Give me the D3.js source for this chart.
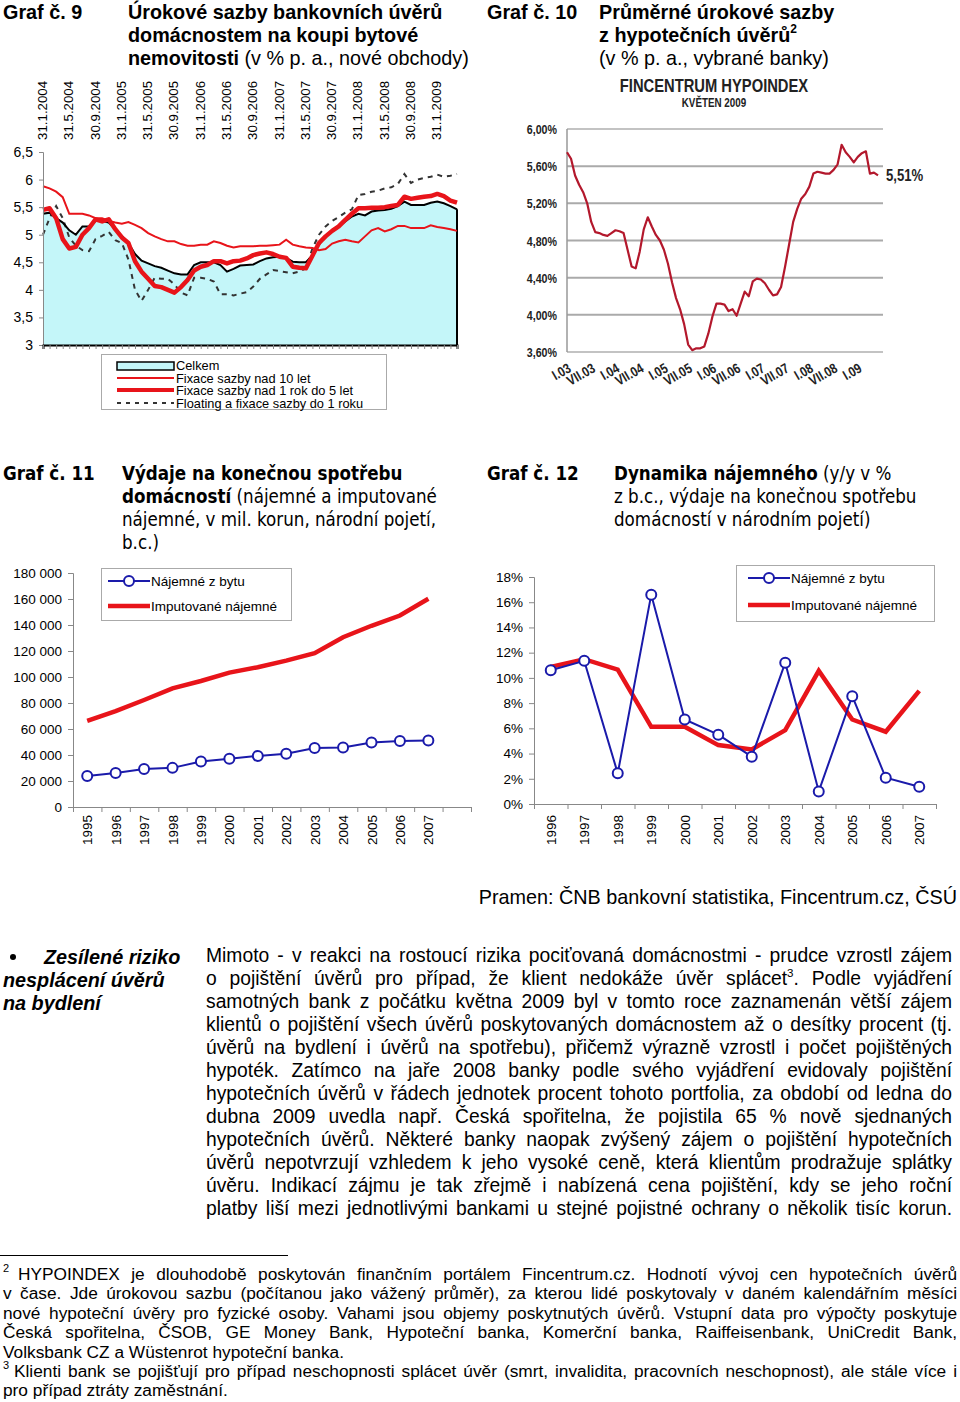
<!DOCTYPE html>
<html>
<head>
<meta charset="utf-8">
<style>
  html, body { margin: 0; padding: 0; background: #fff; }
  svg { display: block; font-family: Arial, "Liberation Sans", sans-serif; }
  .narrow { font-family: "Liberation Sans Narrow", "Arial Narrow", "DejaVu Sans Condensed", sans-serif; }
</style>
</head>
<body>
<svg id="page" width="960" height="1402"></svg>
<script src="https://cdn.jsdelivr.net/npm/d3@7/dist/d3.min.js"></script>
<script>
// Graf 9 - monthly, 31.1.2004 .. 30.4.2009
const g9Celkem = [5.38,5.40,5.30,5.22,5.08,5.00,5.15,5.15,5.25,5.25,
  5.22,5.10,4.98,4.85,4.65,4.53,4.48,4.43,4.40,4.35,
  4.30,4.28,4.28,4.45,4.50,4.50,4.50,4.45,4.33,4.38,
  4.44,4.45,4.46,4.52,4.57,4.59,4.60,4.58,4.51,4.50,
  4.50,4.62,4.82,4.97,5.06,5.15,5.24,5.33,5.38,5.35,
  5.42,5.44,5.45,5.47,5.52,5.60,5.54,5.54,5.54,5.58,
  5.60,5.57,5.52,5.46];
const g9Fix15 = [5.45,5.48,5.30,4.92,4.75,4.78,5.00,5.12,5.28,5.24,
  5.28,5.10,4.95,4.85,4.52,4.33,4.20,4.07,4.05,4.00,
  3.95,4.05,4.18,4.35,4.42,4.45,4.52,4.52,4.48,4.52,
  4.53,4.57,4.63,4.66,4.68,4.65,4.60,4.58,4.42,4.40,
  4.39,4.62,4.85,4.97,5.07,5.15,5.27,5.38,5.48,5.48,
  5.49,5.49,5.50,5.52,5.54,5.69,5.65,5.67,5.69,5.70,
  5.74,5.70,5.62,5.58];
const g9Fix10 = [5.88,5.84,5.78,5.68,5.38,5.38,5.38,5.35,5.30,5.30,
  5.25,5.22,5.20,5.23,5.18,5.12,5.03,4.97,4.92,4.88,
  4.88,4.83,4.80,4.80,4.82,4.82,4.88,4.85,4.80,4.77,
  4.79,4.79,4.79,4.80,4.80,4.81,4.82,4.91,4.82,4.79,
  4.77,4.76,4.72,4.74,4.84,4.88,4.91,4.88,4.86,4.97,
  5.08,5.12,5.06,5.10,5.16,5.16,5.12,5.12,5.12,5.17,
  5.14,5.12,5.10,5.07];
const g9Float = [5.00,5.30,5.52,5.30,4.95,4.80,4.72,4.70,4.92,4.98,
  5.05,4.90,4.85,4.55,4.00,3.80,4.00,4.22,4.20,4.20,
  4.10,3.95,3.90,4.22,4.22,4.20,4.15,3.92,3.92,3.90,
  3.93,3.96,4.06,4.20,4.28,4.36,4.34,4.32,4.30,4.33,
  4.39,4.75,5.00,5.15,5.25,5.32,5.40,5.46,5.72,5.74,
  5.78,5.80,5.84,5.86,5.92,6.10,5.94,6.00,6.03,6.05,
  6.09,6.05,6.07,6.10];
const g9DateLabels = ["31.1.2004","31.5.2004","30.9.2004","31.1.2005","31.5.2005","30.9.2005",
  "31.1.2006","31.5.2006","30.9.2006","31.1.2007","31.5.2007","30.9.2007",
  "31.1.2008","31.5.2008","30.9.2008","31.1.2009"];
const g9YTicks = [3, 3.5, 4, 4.5, 5, 5.5, 6, 6.5];
const g9Legend = ["Celkem", "Fixace sazby nad 10 let", "Fixace sazby nad 1 rok do 5 let", "Floating a fixace sazby do 1 roku"];

// Graf 10 - Fincentrum Hypoindex, monthly I.2003 .. VI.2009
const g10Hypo = [5.75,5.68,5.50,5.40,5.32,5.20,5.00,4.89,4.88,4.86,
  4.85,4.88,4.91,4.90,4.88,4.70,4.52,4.50,4.68,4.92,
  5.05,4.95,4.86,4.80,4.70,4.55,4.35,4.18,4.06,3.90,
  3.68,3.62,3.64,3.64,3.66,3.80,3.98,4.12,4.12,4.11,
  4.04,4.06,3.99,4.12,4.25,4.20,4.36,4.39,4.38,4.34,
  4.27,4.21,4.22,4.30,4.52,4.76,5.00,5.14,5.25,5.30,
  5.38,5.52,5.54,5.53,5.52,5.52,5.56,5.62,5.83,5.75,
  5.70,5.64,5.70,5.74,5.76,5.52,5.53,5.50];
const g10XLabels = ["I.03","VII.03","I.04","VII.04","I.05","VII.05","I.06","VII.06","I.07","VII.07","I.08","VII.08","I.09"];
const g10YTicks = [3.6, 4.0, 4.4, 4.8, 5.2, 5.6, 6.0];

// Graf 11
const years11 = ["1995","1996","1997","1998","1999","2000","2001","2002","2003","2004","2005","2006","2007"];
const najemne11 = [23900,26200,29300,30100,35000,37200,39300,40900,45300,45800,49600,50700,51200];
const imput11 = [66300,73800,82300,91300,96900,103400,107500,112600,118300,130600,139400,147300,160200];

// Graf 12
const years12 = ["1996","1997","1998","1999","2000","2001","2002","2003","2004","2005","2006","2007"];
const najemne12 = [10.6,11.35,2.43,16.6,6.7,5.5,3.75,11.2,1.0,8.55,2.08,1.37];
const imput12 = [10.87,11.48,10.66,6.12,6.12,4.67,4.33,5.86,10.56,6.7,5.73,8.97];

const RED = '#e8141a', BLUE = '#1a1aaa';
const svg = d3.select('#page');
const comma = v => String(v).replace('.', ',');

// ---------- headings ----------
function heading(x, y, parts, size, cls) {
  const t = svg.append('text').attr('x', x).attr('y', y).style('font-size', size + 'px');
  if (cls) t.attr('class', cls);
  parts.forEach(p => {
    t.append('tspan').text(p[0]).style('font-weight', p[1] ? 'bold' : 'normal');
  });
  return t;
}
const HS = 19.8;
heading(3, 19, [["Graf č. 9", 1]], HS);
heading(128, 19, [["Úrokové sazby bankovních úvěrů", 1]], HS);
heading(128, 42, [["domácnostem na koupi bytové", 1]], HS);
heading(128, 65, [["nemovitosti", 1], [" (v % p. a., nové obchody)", 0]], HS);
heading(487, 19, [["Graf č. 10", 1]], HS);
heading(599, 19, [["Průměrné úrokové sazby", 1]], HS);
const h10 = heading(599, 42, [["z hypotečních úvěrů", 1]], HS);
h10.append('tspan').attr('dy', -9).style('font-size', '12px').style('font-weight', 'bold').text('2');
heading(599, 65, [["(v % p. a., vybrané banky)", 0]], HS);

const NS = 18.6;
heading(3, 480, [["Graf č. 11", 1]], NS, 'narrow');
heading(122, 480, [["Výdaje na konečnou spotřebu", 1]], NS, 'narrow');
heading(122, 503, [["domácností", 1], [" (nájemné a imputované", 0]], NS, 'narrow');
heading(122, 526, [["nájemné, v mil. korun, národní pojetí,", 0]], NS, 'narrow');
heading(122, 549, [["b.c.)", 0]], NS, 'narrow');
heading(487, 480, [["Graf č. 12", 1]], NS, 'narrow');
heading(614, 480, [["Dynamika nájemného", 1], [" (y/y v %", 0]], NS, 'narrow');
heading(614, 503, [["z b.c., výdaje na konečnou spotřebu", 0]], NS, 'narrow');
heading(614, 526, [["domácností v národním pojetí)", 0]], NS, 'narrow');

// ---------- Graf 9 ----------
{
  const x = d3.scaleLinear().domain([0, g9Celkem.length - 1]).range([43, 457]);
  const y = d3.scaleLinear().domain([3, 6.5]).range([345, 152]);
  const g = svg.append('g');
  g.append('path').datum(g9Celkem)
    .attr('d', d3.area().x((d, i) => x(i)).y0(y(3)).y1(d => y(d)))
    .attr('fill', '#c4f6f9');
  const line = d3.line().x((d, i) => x(i)).y(d => y(d));
  g.append('path').datum(g9Float).attr('d', line).attr('fill', 'none')
    .attr('stroke', '#333').attr('stroke-width', 2).attr('stroke-dasharray', '5,5');
  g.append('path').datum(g9Celkem).attr('d', line).attr('fill', 'none')
    .attr('stroke', '#000').attr('stroke-width', 2);
  g.append('line').attr('x1', x(63)).attr('x2', x(63)).attr('y1', y(g9Celkem[63])).attr('y2', y(3))
    .attr('stroke', '#000').attr('stroke-width', 2);
  g.append('path').datum(g9Fix10).attr('d', line).attr('fill', 'none')
    .attr('stroke', RED).attr('stroke-width', 2);
  g.append('path').datum(g9Fix15).attr('d', line).attr('fill', 'none')
    .attr('stroke', RED).attr('stroke-width', 4.5).attr('stroke-linejoin', 'round');

  const ya = g.append('g').attr('transform', 'translate(43,0)')
    .call(d3.axisLeft(y).tickValues(g9YTicks).tickSize(4).tickFormat(comma));
  ya.select('.domain').attr('stroke', '#888');
  ya.selectAll('.tick line').attr('stroke', '#888');
  ya.selectAll('text').attr('x', -10).style('font-size', '14px').style('font-family', 'Arial, Liberation Sans');
  const xa = g.append('g').attr('transform', 'translate(0,345)')
    .call(d3.axisBottom(x).tickValues(d3.range(g9Celkem.length)).tickSize(4).tickFormat(''));
  xa.select('.domain').attr('stroke', '#000').attr('stroke-width', 2);
  xa.selectAll('.tick line').attr('stroke', '#888');
  g.selectAll('.dlab').data(g9DateLabels).join('text')
    .attr('transform', (d, i) => `translate(${x(i * 4) + 4},140) rotate(-90)`)
    .style('font-size', '13.3px').text(d => d);

  const lg = g.append('g');
  lg.append('rect').attr('x', 101.5).attr('y', 354.5).attr('width', 285).attr('height', 55)
    .attr('fill', '#fff').attr('stroke', '#aaa');
  lg.append('rect').attr('x', 117).attr('y', 362).attr('width', 57).attr('height', 8)
    .attr('fill', '#c4f6f9').attr('stroke', '#000').attr('stroke-width', 1.5);
  lg.append('line').attr('x1', 117).attr('x2', 174).attr('y1', 378).attr('y2', 378).attr('stroke', RED).attr('stroke-width', 2);
  lg.append('line').attr('x1', 117).attr('x2', 174).attr('y1', 390).attr('y2', 390).attr('stroke', RED).attr('stroke-width', 4);
  lg.append('line').attr('x1', 117).attr('x2', 174).attr('y1', 403).attr('y2', 403).attr('stroke', '#333').attr('stroke-width', 2).attr('stroke-dasharray', '4,5');
  lg.selectAll('text').data(g9Legend).join('text')
    .attr('x', 176).attr('y', (d, i) => 370 + i * 12.5)
    .style('font-size', '12.8px').text(d => d);
}

// ---------- Graf 10 ----------
{
  const x = d3.scaleLinear().domain([0, g10Hypo.length - 1]).range([567, 878]);
  const y = d3.scaleLinear().domain([3.6, 6.0]).range([352, 129]);
  const g = svg.append('g');
  // Arial-Narrow-like text: bold sans squeezed horizontally
  const nt = (tr, size, anchor, txt) => g.append('text')
    .attr('transform', tr + ' scale(0.82,1)').attr('text-anchor', anchor)
    .style('font-size', size + 'px').style('font-weight', 'bold').style('fill', '#222').text(txt);

  g.selectAll('.grid').data(g10YTicks).join('line')
    .attr('x1', 567).attr('x2', 883).attr('y1', d => y(d)).attr('y2', d => y(d))
    .attr('stroke', d => d === 6.0 || d === 3.6 ? '#888' : '#aaa')
    .attr('stroke-width', d => d === 6.0 || d === 3.6 ? 1.2 : 2);
  g.append('line').attr('x1', 567).attr('x2', 567).attr('y1', y(6.0)).attr('y2', y(3.6)).attr('stroke', '#999').attr('stroke-width', 1.5);
  g10YTicks.forEach(d => nt(`translate(557,${y(d) + 5})`, 13, 'end', d.toFixed(2).replace('.', ',') + '%'));
  g.append('path').datum(g10Hypo)
    .attr('d', d3.line().x((d, i) => x(i)).y(d => y(d)))
    .attr('fill', 'none').attr('stroke', '#b3182c').attr('stroke-width', 2.2).attr('stroke-linejoin', 'round');
  g10XLabels.forEach((d, i) => nt(`translate(${x(i * 6) + 5},371) rotate(-30)`, 14, 'end', d));
  nt('translate(886,181)', 16, 'start', comma(g10Hypo[g10Hypo.length - 1] + 0.01) + '%');
  nt('translate(714,92)', 18, 'middle', 'FINCENTRUM HYPOINDEX');
  nt('translate(714,107)', 12, 'middle', 'KVĚTEN 2009');
}

// ---------- shared helpers for Graf 11/12 ----------
function styleAxis(sel) {
  sel.select('.domain').attr('stroke', '#888');
  sel.selectAll('.tick line').attr('stroke', '#888');
  sel.selectAll('text').style('font-size', '13.5px').style('font-family', 'Arial, Liberation Sans').attr('fill', '#000');
}
function yearLabels(g, data, x, top) {
  g.selectAll('.yr').data(data).join('text')
    .attr('transform', (d, i) => `translate(${x(i + 0.5) + 5},${top}) rotate(-90)`)
    .attr('text-anchor', 'end').style('font-size', '13.5px').text(d => d);
}
function legend(g, x0, y0, w, h, pad, gap) {
  g.append('rect').attr('x', x0 + 0.5).attr('y', y0 + 0.5).attr('width', w).attr('height', h)
    .attr('fill', '#fff').attr('stroke', '#aaa');
  const lx = x0 + pad, ly1 = y0 + 13, ly2 = y0 + 13 + gap;
  g.append('line').attr('x1', lx).attr('x2', lx + 42).attr('y1', ly1).attr('y2', ly1).attr('stroke', BLUE).attr('stroke-width', 2);
  g.append('circle').attr('cx', lx + 21).attr('cy', ly1).attr('r', 5).attr('fill', '#fff').attr('stroke', BLUE).attr('stroke-width', 2);
  g.append('line').attr('x1', lx).attr('x2', lx + 42).attr('y1', ly2).attr('y2', ly2).attr('stroke', RED).attr('stroke-width', 4.5);
  g.append('text').attr('x', lx + 43).attr('y', ly1 + 5).style('font-size', '13.5px').text('Nájemné z bytu');
  g.append('text').attr('x', lx + 43).attr('y', ly2 + 5).style('font-size', '13.5px').text('Imputované nájemné');
}

// ---------- Graf 11 ----------
{
  const x = d3.scaleLinear().domain([0, years11.length + 1]).range([73, 471]);
  const y = d3.scaleLinear().domain([0, 180000]).range([807, 573]);
  const fmt = d3.formatLocale({ decimal: ',', thousands: ' ', grouping: [3] }).format(',');
  const g = svg.append('g');
  styleAxis(g.append('g').attr('transform', 'translate(73,0)')
    .call(d3.axisLeft(y).ticks(9).tickSize(5).tickPadding(6).tickFormat(fmt)));
  styleAxis(g.append('g').attr('transform', 'translate(0,807)')
    .call(d3.axisBottom(x).tickValues(d3.range(years11.length + 2)).tickSize(5).tickFormat('')));
  yearLabels(g, years11, x, 815);
  g.append('path').datum(imput11)
    .attr('d', d3.line().x((d, i) => x(i + 0.5)).y(d => y(d)))
    .attr('fill', 'none').attr('stroke', RED).attr('stroke-width', 4.5);
  g.append('path').datum(najemne11)
    .attr('d', d3.line().x((d, i) => x(i + 0.5)).y(d => y(d)))
    .attr('fill', 'none').attr('stroke', BLUE).attr('stroke-width', 2);
  g.selectAll('.pt').data(najemne11).join('circle')
    .attr('cx', (d, i) => x(i + 0.5)).attr('cy', d => y(d)).attr('r', 5)
    .attr('fill', '#fff').attr('stroke', BLUE).attr('stroke-width', 2);
  legend(g, 101, 568, 190, 52, 7, 25);
}

// ---------- Graf 12 ----------
{
  const x = d3.scaleLinear().domain([0, years12.length]).range([534, 936]);
  const y = d3.scaleLinear().domain([0, 18]).range([804, 577]);
  const g = svg.append('g');
  styleAxis(g.append('g').attr('transform', 'translate(534,0)')
    .call(d3.axisLeft(y).tickValues(d3.range(0, 19, 2)).tickSize(5).tickPadding(6).tickFormat(d => d + '%')));
  styleAxis(g.append('g').attr('transform', 'translate(0,804)')
    .call(d3.axisBottom(x).tickValues(d3.range(years12.length + 1)).tickSize(5).tickFormat('')));
  yearLabels(g, years12, x, 815);
  g.append('path').datum(imput12)
    .attr('d', d3.line().x((d, i) => x(i + 0.5)).y(d => y(d)))
    .attr('fill', 'none').attr('stroke', RED).attr('stroke-width', 4.5);
  g.append('path').datum(najemne12)
    .attr('d', d3.line().x((d, i) => x(i + 0.5)).y(d => y(d)))
    .attr('fill', 'none').attr('stroke', BLUE).attr('stroke-width', 2);
  g.selectAll('.pt').data(najemne12).join('circle')
    .attr('cx', (d, i) => x(i + 0.5)).attr('cy', d => y(d)).attr('r', 5)
    .attr('fill', '#fff').attr('stroke', BLUE).attr('stroke-width', 2);
  legend(g, 736, 565, 198, 56, 12, 27);
}

// ---------- text blocks ----------
svg.append('text').attr('x', 957).attr('y', 904).attr('text-anchor', 'end')
  .style('font-size', '19.8px').text('Pramen: ČNB bankovní statistika, Fincentrum.cz, ČSÚ');

svg.append('circle').attr('cx', 13).attr('cy', 957).attr('r', 3).attr('fill', '#000');
heading(44, 964, [["Zesílené riziko", 1]], HS).style('font-style', 'italic');
heading(3, 987, [["nesplácení úvěrů", 1]], HS).style('font-style', 'italic');
heading(3, 1010, [["na bydlení", 1]], HS).style('font-style', 'italic');

function justified(lines, x0, x1, y0, lh, size, lastLeft) {
  lines.forEach((ln, i) => {
    const xs = ln.x !== undefined ? ln.x : x0;
    const t = svg.append('text').attr('x', xs).attr('y', y0 + i * lh).style('font-size', size + 'px');
    ln.parts.forEach(p => {
      if (p.sup) {
        t.append('tspan').attr('dy', -8).style('font-size', (size * 0.6) + 'px').text(p.sup);
        t.append('tspan').attr('dy', 8).text(p.after || '');
      } else t.append('tspan').text(p.t);
    });
    if ((lastLeft && i === lines.length - 1) || ln.noJustify) return;
    const len = t.node().getComputedTextLength();
    const spaces = (t.text().match(/ /g) || []).length;
    if (spaces) t.attr('word-spacing', (x1 - xs - len) / spaces);
  });
}

const para = [
  "Mimoto - v reakci na rostoucí rizika pociťovaná domácnostmi - prudce vzrostl zájem",
  null,
  "samotných bank z počátku května 2009 byl v tomto roce zaznamenán větší zájem",
  "klientů o pojištění všech úvěrů poskytovaných domácnostem až o desítky procent (tj.",
  "úvěrů na bydlení i úvěrů na spotřebu), přičemž výrazně vzrostl i počet pojištěných",
  "hypoték. Zatímco na jaře 2008 banky podle svého vyjádření evidovaly pojištění",
  "hypotečních úvěrů v řádech jednotek procent tohoto portfolia, za období od ledna do",
  "dubna 2009 uvedla např. Česká spořitelna, že pojistila 65 % nově sjednaných",
  "hypotečních úvěrů. Některé banky naopak zvýšený zájem o pojištění hypotečních",
  "úvěrů nepotvrzují vzhledem k jeho vysoké ceně, která klientům prodražuje splátky",
  "úvěru. Indikací zájmu je tak zřejmě i nabízená cena pojištění, kdy se jeho roční",
  "platby liší mezi jednotlivými bankami u stejné pojistné ochrany o několik tisíc korun."
].map(s => s ? { parts: [{ t: s }] } : { parts: [{ t: "o pojištění úvěrů pro případ, že klient nedokáže úvěr splácet" }, { sup: "3", after: ". Podle vyjádření" }] });
justified(para, 206, 952, 962, 23, 19.3, false);

svg.append('line').attr('x1', 0).attr('x2', 288).attr('y1', 1255.5).attr('y2', 1255.5).attr('stroke', '#000');
svg.append('text').attr('x', 3).attr('y', 1272).style('font-size', '11px').text('2');
svg.append('text').attr('x', 3).attr('y', 1369).style('font-size', '11px').text('3');
const foot = [
  { x: 18, parts: [{ t: "HYPOINDEX je dlouhodobě poskytován finančním portálem Fincentrum.cz. Hodnotí vývoj cen hypotečních úvěrů" }] },
  { parts: [{ t: "v čase. Jde úrokovou sazbu (počítanou jako vážený průměr), za kterou lidé poskytovaly v daném kalendářním měsíci" }] },
  { parts: [{ t: "nové hypoteční úvěry pro fyzické osoby. Vahami jsou objemy poskytnutých úvěrů. Vstupní data pro výpočty poskytuje" }] },
  { parts: [{ t: "Česká spořitelna, ČSOB, GE Money Bank, Hypoteční banka, Komerční banka, Raiffeisenbank, UniCredit Bank," }] },
  { noJustify: true, parts: [{ t: "Volksbank CZ a Wüstenrot hypoteční banka." }] },
  { x: 14, parts: [{ t: "Klienti bank se pojišťují pro případ neschopnosti splácet úvěr (smrt, invalidita, pracovních neschopnost), ale stále více i" }] },
  { parts: [{ t: "pro případ ztráty zaměstnání." }] }
];
justified(foot, 3, 957, 1280, 19.4, 17.3, true);
</script>
</body>
</html>
